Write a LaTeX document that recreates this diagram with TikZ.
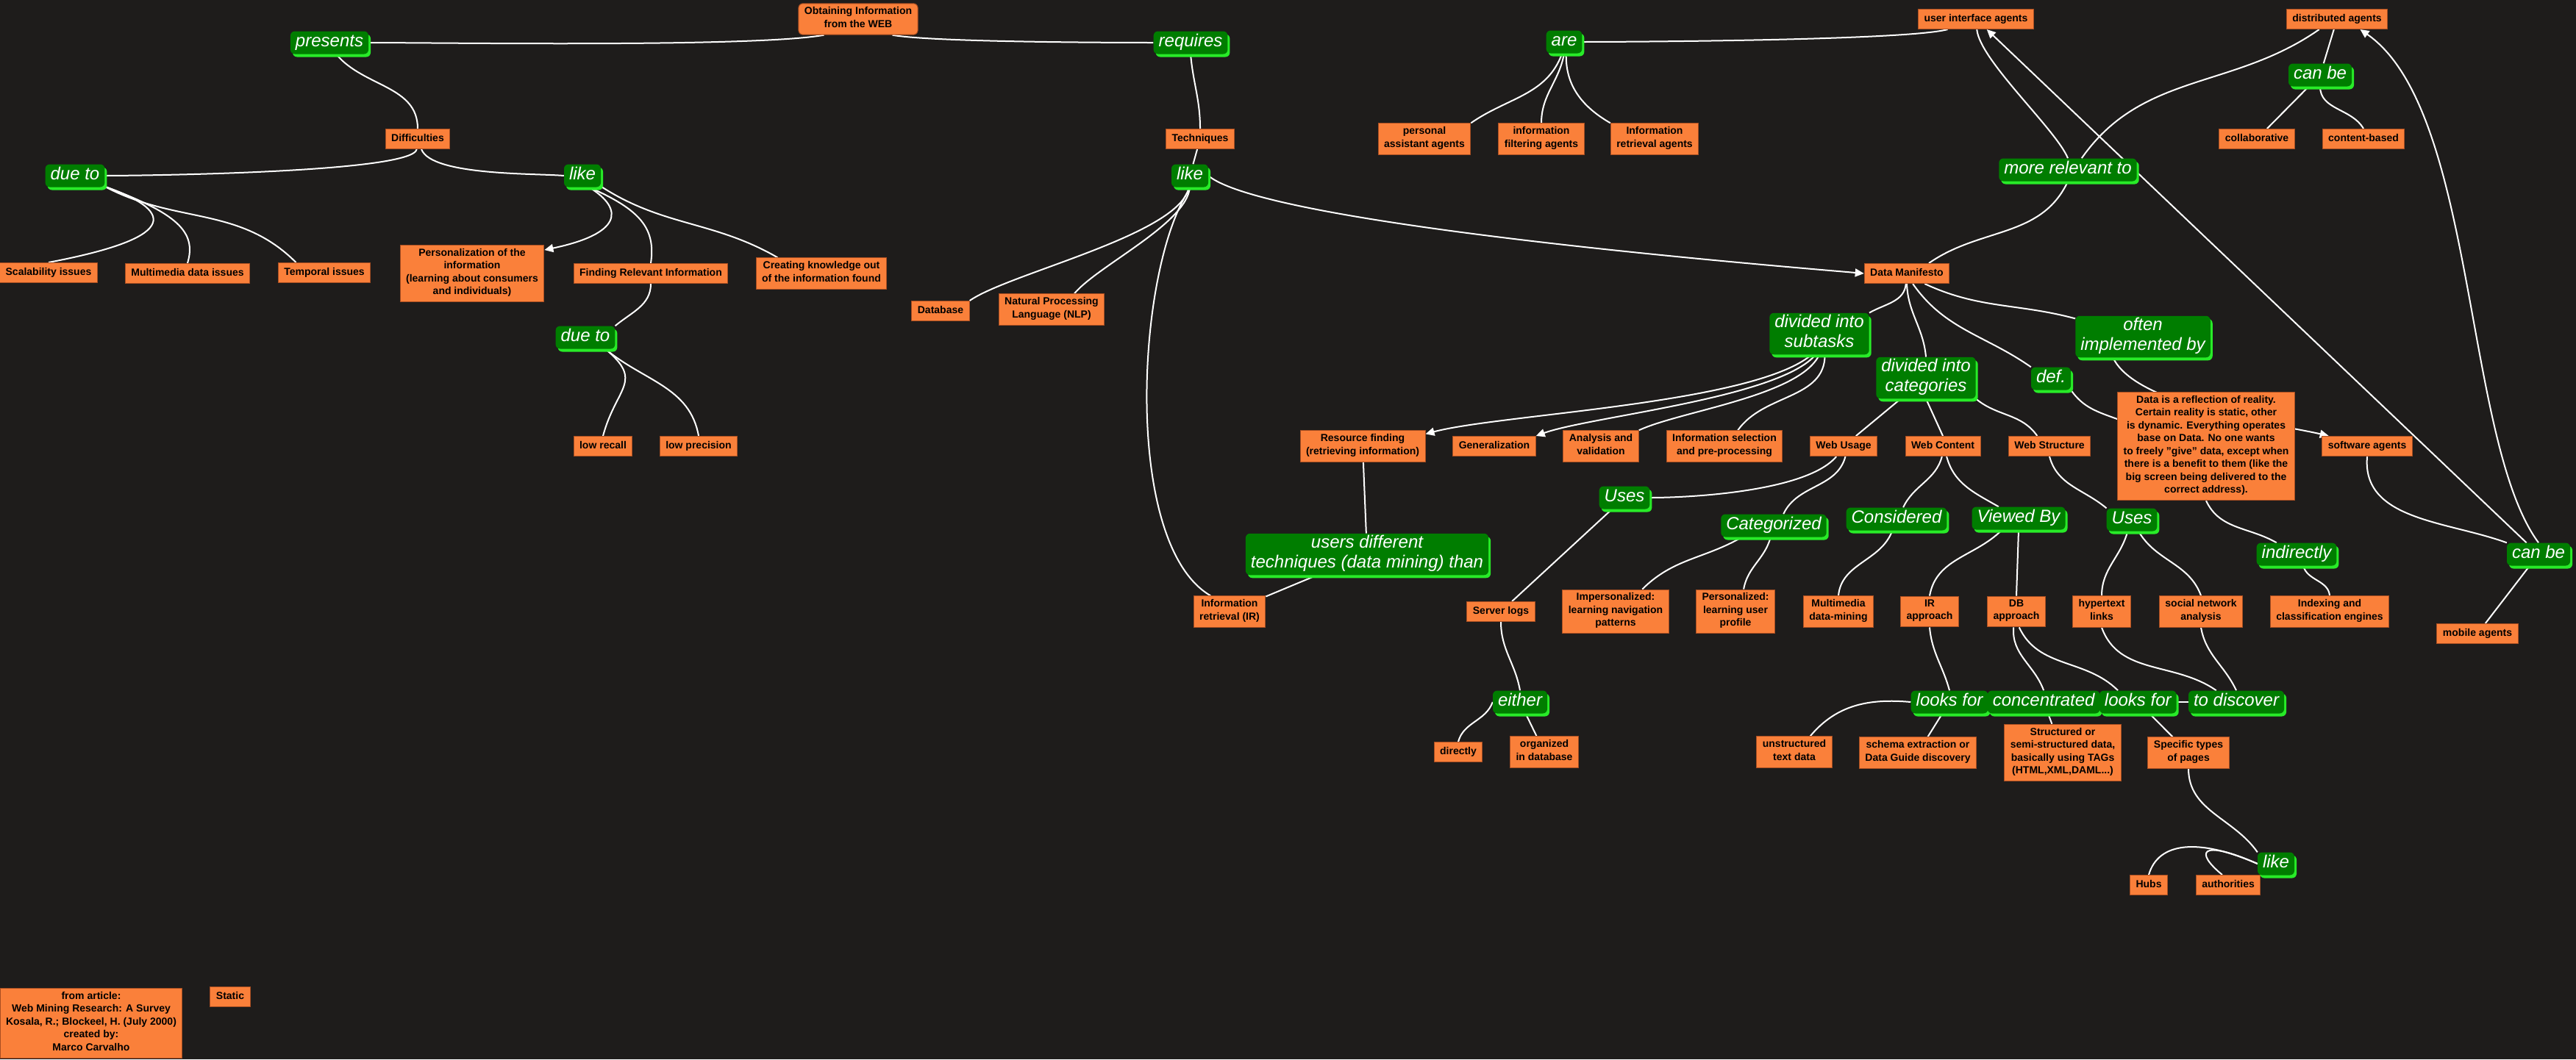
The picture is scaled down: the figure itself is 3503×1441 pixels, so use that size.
\documentclass[tikz,border=0pt]{standalone}
\usepackage{fontspec}
\setmainfont{Liberation Sans}
\usetikzlibrary{arrows.meta,positioning,shadows}
\definecolor{bgdark}{RGB}{30,28,27}
\definecolor{boxorange}{RGB}{250,128,58}
\definecolor{boxedge}{RGB}{168,78,34}
\definecolor{phrasegreen}{RGB}{0,125,0}
\definecolor{phraseglow}{RGB}{40,235,40}
\pgfdeclarelayer{backdrop}
\pgfdeclarelayer{wires}
\pgfsetlayers{backdrop,wires,main}

\begin{document}
\begin{tikzpicture}[x=1pt, y=1pt,
    concept/.style={draw=boxedge, line width=1pt, fill=boxorange, text=black, align=center, inner xsep=8pt, inner ysep=4.75pt, font=\bfseries\fontsize{14}{17.5}\selectfont, execute at begin node=\strut, execute at end node=\strut},
    phrase/.style={fill=phrasegreen, text=white, rounded corners=6pt, align=center, inner xsep=7pt, inner ysep=2pt, font=\itshape\fontsize{24}{27}\selectfont, execute at begin node=\strut, execute at end node=\strut, drop shadow={fill=phraseglow, opacity=1, shadow xshift=3pt, shadow yshift=-4pt}},
    wire/.style={draw=white, line width=2pt},
    wirearrow/.style={wire, -{Triangle[length=12pt,width=11pt]}}]
    \useasboundingbox (0,0) rectangle (3503,-1441);
    \begin{pgfonlayer}{backdrop}
    \fill[bgdark] (0,0) rectangle (3503,-1441);
    \end{pgfonlayer}

    \node[concept, rounded corners=6pt] (web) at (1167,-26) {Obtaining Information\\from the WEB};
    \node[concept] (diff) at (568,-189) {Difficulties};
    \node[concept] (scal) at (66,-371) {Scalability issues};
    \node[concept] (mmd) at (255,-372) {Multimedia data issues};
    \node[concept] (temp) at (441,-371) {Temporal issues};
    \node[concept] (pers) at (642,-372) {Personalization of the\\information\\(learning about consumers\\and individuals)};
    \node[concept] (find) at (885,-372) {Finding Relevant Information};
    \node[concept] (know) at (1117,-372) {Creating knowledge out\\of the information found};
    \node[concept] (recall) at (820,-607) {low recall};
    \node[concept] (prec) at (950,-607) {low precision};
    \node[concept] (tech) at (1632,-189) {Techniques};
    \node[concept] (db) at (1279,-423) {Database};
    \node[concept] (nlp) at (1430,-421) {Natural Processing\\Language (NLP)};
    \node[concept] (irr) at (1672,-832) {Information\\retrieval (IR)};
    \node[concept] (pa) at (1937,-189) {personal\\assistant agents};
    \node[concept] (ifa) at (2096,-189) {information\\filtering agents};
    \node[concept] (ira) at (2250,-189) {Information\\retrieval agents};
    \node[concept] (ui) at (2687,-26) {user interface agents};
    \node[concept] (dist) at (3178,-26) {distributed agents};
    \node[concept] (coll) at (3069,-189) {collaborative};
    \node[concept] (cont) at (3214,-189) {content-based};
    \node[concept] (man) at (2593,-372) {Data Manifesto};
    \node[concept] (res) at (1853,-607) {Resource finding\\(retrieving information)};
    \node[concept] (gen) at (2032,-607) {Generalization};
    \node[concept] (ana) at (2177,-607) {Analysis and\\validation};
    \node[concept] (sel) at (2345,-607) {Information selection\\and pre-processing};
    \node[concept] (usage) at (2507,-607) {Web Usage};
    \node[concept] (content) at (2642,-607) {Web Content};
    \node[concept] (struct) at (2787,-607) {Web Structure};
    \node[concept] (data) at (3000,-607) {Data is a reflection of reality.\\Certain reality is static, other\\is dynamic. Everything operates\\base on Data.  No one wants\\to freely "give" data, except when\\there is a benefit to them (like the\\big screen being delivered to the\\correct address).};
    \node[concept] (soft) at (3219,-607) {software agents};
    \node[concept] (logs) at (2041,-832) {Server logs};
    \node[concept] (imp) at (2197,-832) {Impersonalized:\\learning navigation\\patterns};
    \node[concept] (perz) at (2360,-832) {Personalized:\\learning user\\profile};
    \node[concept] (mdm) at (2500,-832) {Multimedia\\data-mining};
    \node[concept] (irapp) at (2624,-832) {IR\\approach};
    \node[concept] (dbapp) at (2742,-832) {DB\\approach};
    \node[concept] (hyper) at (2858,-832) {hypertext\\links};
    \node[concept] (social) at (2993,-832) {social network\\analysis};
    \node[concept] (index) at (3168,-832) {Indexing and\\classification engines};
    \node[concept] (mobile) at (3369,-862) {mobile agents};
    \node[concept] (direct) at (1983,-1023) {directly};
    \node[concept] (org) at (2100,-1023) {organized\\in database};
    \node[concept] (unstr) at (2440,-1023) {unstructured\\text data};
    \node[concept] (schema) at (2608,-1024) {schema extraction or\\Data Guide discovery};
    \node[concept] (semi) at (2805,-1024) {Structured or\\semi-structured data,\\basically using TAGs\\(HTML,XML,DAML...)};
    \node[concept] (spec) at (2976,-1024) {Specific types\\of  pages};
    \node[concept] (hubs) at (2922,-1204) {Hubs};
    \node[concept] (auth) at (3030,-1204) {authorities};
    \node[concept] (src) at (124,-1392) {from article:\\Web Mining Research: A Survey\\Kosala, R.; Blockeel, H. (July 2000)\\created by:\\Marco Carvalho};
    \node[concept] (static) at (313,-1356) {Static};

    \node[phrase] (presents) at (448,-58) {presents};
    \node[phrase] (requires) at (1619,-58) {requires};
    \node[phrase] (dueto1) at (102,-239) {due to};
    \node[phrase] (like1) at (792,-239) {like};
    \node[phrase] (dueto2) at (796,-459) {due to};
    \node[phrase] (likeT) at (1618,-239) {like};
    \node[phrase] (are) at (2127,-57) {are};
    \node[phrase] (canbe1) at (3155,-102) {can be};
    \node[phrase] (relev) at (2812,-231) {more relevant to};
    \node[phrase] (subt) at (2474,-454) {divided into\\subtasks};
    \node[phrase] (cats) at (2619,-514) {divided into\\categories};
    \node[phrase] (often) at (2914,-458) {often\\implemented by};
    \node[phrase] (def) at (2789,-515) {def.};
    \node[phrase] (usesL) at (2209,-677) {Uses};
    \node[phrase] (categ) at (2412,-715) {Categorized};
    \node[phrase] (consid) at (2579,-706) {Considered};
    \node[phrase] (viewed) at (2745,-705) {Viewed By};
    \node[phrase] (usesR) at (2899,-707) {Uses};
    \node[phrase] (indir) at (3123,-754) {indirectly};
    \node[phrase] (canbe2) at (3452,-754) {can be};
    \node[phrase] (users) at (1859,-754) {users different\\techniques (data mining) than};
    \node[phrase] (either) at (2067,-955) {either};
    \node[phrase] (looksA) at (2651,-955) {looks for};
    \node[phrase, right=-1pt of looksA] (conc) {concentrated};
    \node[phrase, right=-1pt of conc] (looksB) {looks for};
    \node[phrase] (disc) at (3041,-955) {to discover};
    \node[phrase] (like3) at (3095,-1175) {like};

    \begin{pgfonlayer}{wires}
    \draw[wire] (web.205) to[out=190,in=0,looseness=0.4] (presents.east);
    \draw[wire] (web.335) to[out=350,in=180,looseness=0.4] (requires.west);
    \draw[wire] (presents.300) to[out=-50,in=90] (diff.north);
    \draw[wire] (diff.265) to[out=-100,in=0,looseness=0.2] (dueto1.east);
    \draw[wire] (diff.290) to[out=-70,in=175,looseness=0.5] (like1.west);
    \draw[wire] (dueto1.340) .. controls (245,-290) and (235,-325) .. (scal.north);
    \draw[wire] (dueto1.340) .. controls (240,-290) and (268,-315) .. (mmd.north);
    \draw[wire] (dueto1.340) to[out=-28,in=135] (temp.160);
    \draw[wirearrow] (like1.300) .. controls (850,-285) and (845,-318) .. (pers.18);
    \draw[wire] (like1.300) .. controls (870,-285) and (892,-310) .. (find.north);
    \draw[wire] (like1.330) to[out=-33,in=150] (know.160);
    \draw[wire] (find.south) to[out=-90,in=40] (dueto2.north east);
    \draw[wire] (dueto2.330) to[out=-40,in=75,looseness=1.5] (recall.north);
    \draw[wire] (dueto2.330) to[out=-40,in=100] (prec.north);
    \draw[wire] (requires.south) to[out=-85,in=90] (tech.north);
    \draw[wire] (tech) -- (likeT);
    \draw[wire] (likeT.265) to[out=-100,in=35,looseness=0.5] (db.north east);
    \draw[wire] (likeT.270) to[out=-95,in=50,looseness=0.6] (nlp.35);
    \draw[wire] (likeT.275) .. controls (1545,-360) and (1525,-740) .. (irr.140);
    \draw[wirearrow] (likeT.east) to[out=-40,in=175,looseness=0.3] (man.west);
    \draw[wire] (are.260) to[out=-110,in=35] (pa.north east);
    \draw[wire] (are.270) to[out=-100,in=90] (ifa.north);
    \draw[wire] (are.280) to[out=-92,in=150] (ira.north west);
    \draw[wire] (are.east) to[out=0,in=195,looseness=0.3] (ui.200);
    \draw[wire] (ui.275) to[out=-85,in=112,looseness=0.5] (relev.north);
    \draw[wire] (relev.40) to[out=55,in=215] (dist.210);
    \draw[wire] (man.25) to[out=35,in=-115] (relev.south);
    \draw[wirearrow] (canbe2) -- (ui);
    \draw[wirearrow] (canbe2.north) .. controls (3350,-600) and (3368,-150) .. (dist.336);
    \draw[wire] (soft.south) to[out=-95,in=160] (canbe2.north west);
    \draw[wire] (canbe2) -- (mobile);
    \draw[wire] (dist) -- (canbe1);
    \draw[wire] (canbe1) -- (coll);
    \draw[wire] (canbe1.south) to[out=-90,in=120] (cont.north);
    \draw[wire] (man.265) to[out=-95,in=30] (subt.north east);
    \draw[wire] (man.270) to[out=-88,in=95] (cats.north);
    \draw[wire] (man.300) to[out=-55,in=145] (def.north west);
    \draw[wire] (man.330) to[out=-25,in=165] (often.165);
    \draw[wire] (cats) -- (usage);
    \draw[wire] (cats.south) -- (content.north);
    \draw[wire] (cats.south east) to[out=-40,in=125] (struct.140);
    \draw[wire] (def.south east) to[out=-55,in=160] (data.163);
    \draw[wirearrow] (often.215) to[out=-65,in=167,looseness=0.6] (soft.165);
    \draw[wire] (data.south) to[out=-65,in=150] (indir.150);
    \draw[wire] (indir.300) to[out=-75,in=95] (index.north);
    \draw[wirearrow] (subt.250) to[out=-140,in=15,looseness=0.5] (res.11);
    \draw[wirearrow] (subt.260) to[out=-130,in=20,looseness=0.5] (gen.north east);
    \draw[wire] (subt.270) to[out=-115,in=25,looseness=0.6] (ana.north east);
    \draw[wire] (subt.285) to[out=-90,in=55] (sel.50);
    \draw[wire] (res) -- (users);
    \draw[wire] (users) -- (irr);
    \draw[wire] (usage.235) to[out=-130,in=0,looseness=0.6] (usesL.east);
    \draw[wire] (usage.280) to[out=-105,in=65] (categ.50);
    \draw[wire] (usesL) -- (logs);
    \draw[wire] (categ.200) to[out=-150,in=45] (imp.40);
    \draw[wire] (categ.255) to[out=-105,in=80] (perz.70);
    \draw[wire] (content.265) to[out=-105,in=65] (consid.60);
    \draw[wire] (content.290) to[out=-75,in=150] (viewed.150);
    \draw[wire] (consid.250) to[out=-110,in=85] (mdm.north);
    \draw[wire] (viewed.215) to[out=-135,in=80] (irapp.north);
    \draw[wire] (viewed.south) -- (dbapp.north);
    \draw[wire] (struct.south) to[out=-75,in=140] (usesR.north west);
    \draw[wire] (usesR.250) to[out=-105,in=90] (hyper.north);
    \draw[wire] (usesR.300) to[out=-60,in=110] (social.north);
    \draw[wire] (logs.south) to[out=-90,in=100] (either.north);
    \draw[wire] (either.west) to[out=-110,in=75] (direct.north);
    \draw[wire] (either) -- (org);
    \draw[wire] (irapp.south) to[out=-85,in=105] (looksA.north);
    \draw[wire] (looksA.west) to[out=175,in=50] (unstr.45);
    \draw[wire] (looksA) -- (schema);
    \draw[wire] (dbapp.260) to[out=-95,in=110] (conc.north);
    \draw[wire] (dbapp.280) to[out=-65,in=135] (looksB.150);
    \draw[wire] (conc) -- (semi);
    \draw[wire] (looksB) -- (spec);
    \draw[wire] (looksB) -- (disc);
    \draw[wire] (hyper.south) to[out=-70,in=145] (disc.150);
    \draw[wire] (social.south) to[out=-80,in=115] (disc.north);
    \draw[wire] (spec.south) to[out=-90,in=125] (like3.north west);
    \draw[wire] (like3.west) .. controls (2990,-1140) and (2935,-1145) .. (hubs.north);
    \draw[wire] (like3.west) .. controls (2990,-1140) and (2985,-1160) .. (auth.120);
    \end{pgfonlayer}
  \end{tikzpicture}
\end{document}
